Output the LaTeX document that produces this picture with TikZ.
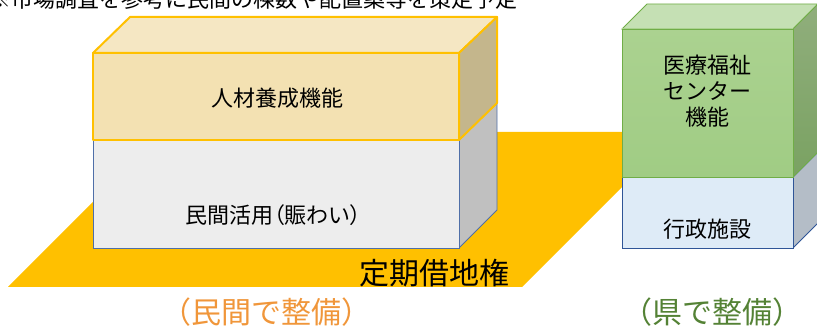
\documentclass[tikz,border=0pt]{standalone}
\usepackage{fontspec}
\newfontfamily\jp{Noto Sans CJK JP}
\newfontfamily\jpp[RawFeature=+palt]{Noto Sans CJK JP}
\definecolor{gold}{HTML}{FFC000}
\definecolor{yfront}{HTML}{F3E1B2}
\definecolor{ytop}{HTML}{F5E7C3}
\definecolor{yside}{HTML}{C4B68C}
\definecolor{gfront}{HTML}{EDEDED}
\definecolor{gside}{HTML}{C0C0C0}
\definecolor{gline}{HTML}{4F6FA8}
\definecolor{grnA}{HTML}{ABD290}
\definecolor{grnB}{HTML}{A0CC84}
\definecolor{grntop}{HTML}{C5E0B4}
\definecolor{grnsideA}{HTML}{90AE7C}
\definecolor{grnsideB}{HTML}{7AA262}
\definecolor{grnline}{HTML}{70AD47}
\definecolor{bfront}{HTML}{DEEBF7}
\definecolor{bside}{HTML}{B4BDC7}
\definecolor{bline}{HTML}{2F5597}
\definecolor{orangetxt}{HTML}{F0963A}
\definecolor{greentxt}{HTML}{548235}
\begin{document}
\begin{tikzpicture}[x=1pt,y=-1pt,
  lbl/.style={inner sep=0pt, font=\jp\fontsize{22}{26}\selectfont, align=center},
  big/.style={inner sep=0pt, font=\jp\fontsize{30}{34}\selectfont}]
\useasboundingbox (0,0) rectangle (817,331);
\clip (0,0) rectangle (817,331);
% header text (cut by top edge, as in the reference)
\node[lbl, anchor=base west] (note) at (-11,8) {※市場調査を参考に民間の棟数や配置案等を策定予定};
% ground
\fill[gold] (8,287) -- (522,287) -- (677,132) -- (163,132) -- cycle;
% left lower box
\filldraw[fill=gside, draw=gline, line width=0.9pt] (459,140) -- (497,103) -- (497,210) -- (459,248) -- cycle;
\filldraw[fill=gfront, draw=gline, line width=0.9pt] (93,140) rectangle (459,248);
% left upper box
\filldraw[fill=ytop, draw=gold, line width=2pt, line join=round] (93,53) -- (130,17) -- (497,17) -- (459,53) -- cycle;
\filldraw[fill=yside, draw=gold, line width=2pt, line join=round] (459,53) -- (497,17) -- (497,103) -- (459,140) -- cycle;
\filldraw[fill=yfront, draw=gold, line width=2pt, line join=round] (93,53) rectangle (459,140);
% right lower box
\filldraw[fill=bside, draw=bline, line width=0.9pt] (793,177) -- (818,152) -- (818,223) -- (793,248) -- cycle;
\filldraw[fill=bfront, draw=bline, line width=0.9pt] (622,177) rectangle (793,248);
% right upper box
\filldraw[fill=grntop, draw=grnline, line width=0.9pt] (622,29) -- (647,4) -- (818,4) -- (793,29) -- cycle;
\shade[top color=grnsideA, bottom color=grnsideB] (793,29) -- (818,4) -- (818,152) -- (793,177) -- cycle;
\draw[grnline, line width=0.9pt] (793,29) -- (818,4) -- (818,152) -- (793,177) -- cycle;
\shade[top color=grnA, bottom color=grnB] (622,29) rectangle (793,177);
\draw[grnline, line width=0.9pt] (622,29) rectangle (793,177);
% labels
\node[lbl] (jinzai) at (277.5,98) {人材養成機能};
\node[lbl, anchor=west] (minkan) at (185,215) {民間活用{\jpp （}賑わい{\jpp ）}};
\node[big] (teiki) at (434,273) {定期借地権};
\node[big, text=orangetxt] (seibi1) at (266.5,312) {（民間で整備）};
\node[lbl] (iryo) at (707.5,91) {医療福祉\\センター\\機能};
\node[lbl] (gyosei) at (707.5,229) {行政施設};
\node[big, text=greentxt] (seibi2) at (712,312) {（県で整備）};
\end{tikzpicture}
\end{document}
